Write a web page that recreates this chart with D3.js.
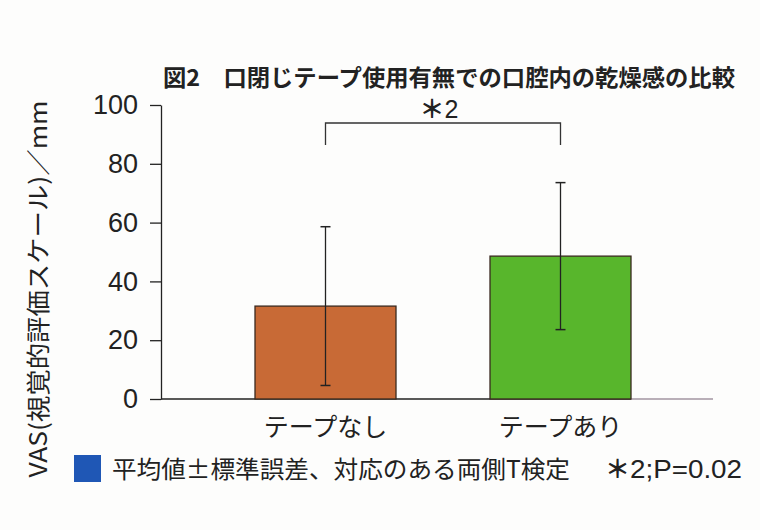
<!DOCTYPE html>
<html>
<head>
<meta charset="utf-8">
<script src="https://cdn.jsdelivr.net/npm/d3@7"></script>
<style>
  body { margin: 0; background: #fdfdfc; }
  svg { display: block; }
  text { font-family: "Liberation Sans", Arial, "Noto Sans CJK JP", sans-serif; fill: #222; }
  .jp { font-family: "Noto Sans CJK JP", "Liberation Sans", sans-serif; }
</style>
</head>
<body>
<div id="chart"></div>
<script>
// data
var categories = ["テープなし", "テープあり"];
var means = [31.6, 48.6];
var errors = [27, 25];
var yTicks = [0, 20, 40, 60, 80, 100];
var barColors = ["#c86a36", "#58b62c"];
var title = "図2　口閉じテープ使用有無での口腔内の乾燥感の比較";
var yLabel = "VAS(視覚的評価スケール)／mm";
var sigMark = "＊";
var sigLabel = "2";
var legendText = "平均値±標準誤差、対応のある両側T検定";
var pText = "2;P=0.02";

var W = 760, H = 530;
var plotL = 161, plotR = 725, plotT = 105, plotB = 399;

var svg = d3.select("#chart").append("svg")
    .attr("width", W)
    .attr("height", H);

var x = d3.scaleBand().domain(categories).range([plotL, plotR])
    .paddingInner(0.4).paddingOuter(0.4);
var y = d3.scaleLinear().domain([0, 100]).range([plotB, plotT]);

// title
svg.append("text").attr("class", "jp")
    .attr("x", 163).attr("y", 86)
    .attr("font-size", 23).attr("font-weight", "bold")
    .attr("textLength", 572).attr("lengthAdjust", "spacingAndGlyphs")
    .text(title);

// y axis
var yAxis = d3.axisLeft(y).tickValues(yTicks).tickSize(11).tickSizeOuter(0).tickPadding(12);
var gy = svg.append("g").attr("transform", "translate(" + plotL + ",0)").call(yAxis);
gy.attr("font-size", 27).attr("font-family", null);
gy.selectAll("text").attr("fill", "#222")
    .style("font-family", "'Liberation Sans', Arial, sans-serif")
    .style("font-size", "27px");
gy.selectAll("line, path").attr("stroke", "#222").attr("stroke-width", 1.3);

// y label
svg.append("text").attr("class", "jp")
    .attr("transform", "translate(47,289) rotate(-90)")
    .attr("text-anchor", "middle")
    .attr("font-size", 24)
    .attr("textLength", 377).attr("lengthAdjust", "spacingAndGlyphs")
    .text(yLabel);

// baseline
var barEnd = x(categories[1]) + x.bandwidth();
svg.append("line")
    .attr("x1", plotL).attr("x2", barEnd)
    .attr("y1", y(0)).attr("y2", y(0))
    .attr("stroke", "#222").attr("stroke-width", 1.5);
svg.append("line")
    .attr("x1", barEnd).attr("x2", 713)
    .attr("y1", y(0)).attr("y2", y(0))
    .attr("stroke", "#b9afb8").attr("stroke-width", 2);

// bars
svg.selectAll("rect.bar").data(means).enter().append("rect")
    .attr("class", "bar")
    .attr("x", function(d, i) { return x(categories[i]); })
    .attr("y", function(d) { return y(d); })
    .attr("width", x.bandwidth())
    .attr("height", function(d) { return y(0) - y(d); })
    .attr("fill", function(d, i) { return barColors[i]; })
    .attr("stroke", "#3a2a20").attr("stroke-width", 1.3);

// error bars
var eb = svg.selectAll("g.err").data(means).enter().append("g").attr("class", "err");
eb.append("line")
    .attr("x1", function(d, i) { return x(categories[i]) + x.bandwidth() / 2; })
    .attr("x2", function(d, i) { return x(categories[i]) + x.bandwidth() / 2; })
    .attr("y1", function(d, i) { return y(d + errors[i]); })
    .attr("y2", function(d, i) { return y(d - errors[i]); })
    .attr("stroke", "#222").attr("stroke-width", 1.3);
[1, -1].forEach(function(s) {
    eb.append("line")
        .attr("x1", function(d, i) { return x(categories[i]) + x.bandwidth() / 2 - 5; })
        .attr("x2", function(d, i) { return x(categories[i]) + x.bandwidth() / 2 + 5; })
        .attr("y1", function(d, i) { return y(d + s * errors[i]); })
        .attr("y2", function(d, i) { return y(d + s * errors[i]); })
        .attr("stroke", "#222").attr("stroke-width", 1.5);
});

// category labels
svg.selectAll("text.cat").data(categories).enter().append("text")
    .attr("class", "cat jp")
    .attr("x", function(d) { return x(d) + x.bandwidth() / 2; })
    .attr("y", 436)
    .attr("text-anchor", "middle")
    .attr("font-size", 25)
    .text(function(d) { return d; });

// significance bracket
var bx1 = x(categories[0]) + x.bandwidth() / 2, bx2 = x(categories[1]) + x.bandwidth() / 2;
svg.append("path")
    .attr("d", "M" + bx1 + ",145V123H" + bx2 + "V145")
    .attr("fill", "none").attr("stroke", "#333").attr("stroke-width", 1.3);
var sig = svg.append("text")
    .attr("x", (bx1 + bx2) / 2 - 4).attr("y", 118)
    .attr("text-anchor", "middle").attr("font-size", 25);
sig.append("tspan").attr("class", "jp").attr("font-weight", "bold").text(sigMark);
sig.append("tspan").text(sigLabel);

// legend
svg.append("rect").attr("x", 74).attr("y", 455).attr("width", 27).attr("height", 27)
    .attr("fill", "#1f57b5");
svg.append("text").attr("class", "jp")
    .attr("x", 112).attr("y", 478)
    .attr("font-size", 24)
    .attr("textLength", 458).attr("lengthAdjust", "spacingAndGlyphs")
    .text(legendText);
var pt = svg.append("text")
    .attr("x", 605).attr("y", 478)
    .attr("font-size", 25);
pt.append("tspan").attr("class", "jp").attr("font-weight", "bold").text(sigMark);
pt.append("tspan").attr("textLength", 112).attr("lengthAdjust", "spacingAndGlyphs").text(pText);
</script>
</body>
</html>
